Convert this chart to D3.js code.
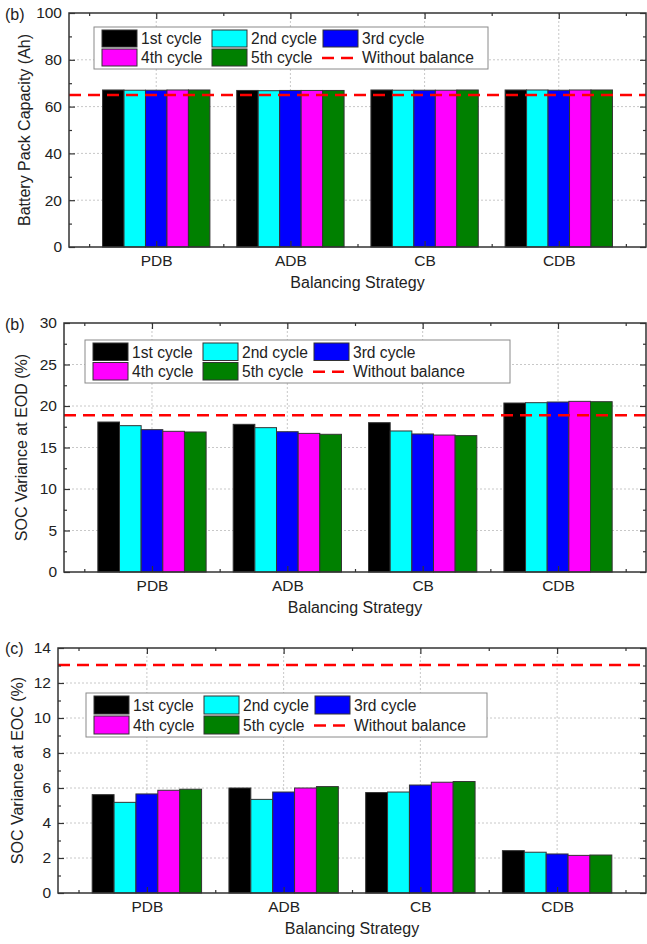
<!DOCTYPE html>
<html>
<head>
<meta charset="utf-8">
<script src="https://cdn.jsdelivr.net/npm/d3@7"></script>
<style>
  html, body { margin: 0; padding: 0; background: #fff; }
  svg { display: block; font-family: Arial, "Liberation Sans", sans-serif; }
</style>
</head>
<body>
<svg id="chart" width="647" height="944"></svg>
<script>
// ---------------- DATA ----------------
const categories = ["PDB", "ADB", "CB", "CDB"];
const seriesNames = ["1st cycle", "2nd cycle", "3rd cycle", "4th cycle", "5th cycle"];
const seriesColors = ["#000000", "#00ffff", "#0000ff", "#ff00ff", "#008000"];
const baselineName = "Without balance";

// values per category: [1st, 2nd, 3rd, 4th, 5th cycle]
const capacityPDB = [67.1, 67.0, 67.0, 67.1, 67.1];
const capacityADB = [66.9, 66.8, 66.9, 66.9, 66.9];
const capacityCB  = [67.1, 67.0, 67.0, 67.0, 67.1];
const capacityCDB = [67.1, 67.1, 67.0, 67.1, 67.1];
const capacityWithoutBalance = 65.0;

const eodPDB = [18.07, 17.63, 17.15, 16.95, 16.87];
const eodADB = [17.79, 17.39, 16.90, 16.70, 16.59];
const eodCB  = [17.99, 16.99, 16.63, 16.50, 16.43];
const eodCDB = [20.36, 20.40, 20.48, 20.56, 20.52];
const eodWithoutBalance = 18.88;

const eocPDB = [5.62, 5.18, 5.66, 5.87, 5.93];
const eocADB = [6.00, 5.35, 5.77, 6.00, 6.08];
const eocCB  = [5.74, 5.77, 6.17, 6.33, 6.37];
const eocCDB = [2.42, 2.33, 2.23, 2.15, 2.17];
const eocWithoutBalance = 13.03;

const capacityTicks = [0, 20, 40, 60, 80, 100];
const eodTicks = [0, 5, 10, 15, 20, 25, 30];
const eocTicks = [0, 2, 4, 6, 8, 10, 12, 14];

const xTitle = "Balancing Strategy";
const capacityTitle = "Battery Pack Capacity (Ah)";
const eodTitle = "SOC Variance at EOD (%)";
const eocTitle = "SOC Variance at EOC (%)";

// ---------------- LAYOUT ----------------
const panels = [
  { tag: "(b)", title: capacityTitle, data: [capacityPDB, capacityADB, capacityCB, capacityCDB],
    base: capacityWithoutBalance, ticks: capacityTicks,
    box: { l: 69, r: 646, t: 13, b: 247 }, titleX: 24, tagY: 14,
    legend: { x: 94, y: 27, w: 394, h: 42 } },
  { tag: "(b)", title: eodTitle, data: [eodPDB, eodADB, eodCB, eodCDB],
    base: eodWithoutBalance, ticks: eodTicks,
    box: { l: 64, r: 646, t: 323, b: 572 }, titleX: 21, tagY: 324,
    legend: { x: 85, y: 340, w: 425, h: 43 } },
  { tag: "(c)", title: eocTitle, data: [eocPDB, eocADB, eocCB, eocCDB],
    base: eocWithoutBalance, ticks: eocTicks,
    box: { l: 58, r: 646, t: 648, b: 893 }, titleX: 17, tagY: 648,
    legend: { x: 86, y: 693, w: 401, h: 44 } }
];

const svg = d3.select("#chart");
const FS = 16;
const LFS = 15.6;
const TFS = 15.5;
const barW = 0.16;

panels.forEach(p => {
  const g = svg.append("g");
  const x = d3.scaleLinear().domain([0.35, 4.65]).range([p.box.l, p.box.r]);
  const yMax = p.ticks[p.ticks.length - 1];
  const y = d3.scaleLinear().domain([0, yMax]).range([p.box.b, p.box.t]);
  const step = p.ticks[1] - p.ticks[0];
  const minorTicks = p.ticks.slice(0, -1).map(t => t + step / 2);

  // grid
  g.append("g").selectAll("line").data(p.ticks.slice(1, -1)).join("line")
    .attr("x1", p.box.l).attr("x2", p.box.r)
    .attr("y1", d => y(d)).attr("y2", d => y(d))
    .attr("stroke", "#c8c8c8").attr("stroke-width", 1).attr("stroke-dasharray", "2,2");
  g.append("g").selectAll("line").data([1, 2, 3, 4]).join("line")
    .attr("x1", d => x(d)).attr("x2", d => x(d))
    .attr("y1", p.box.t).attr("y2", p.box.b)
    .attr("stroke", "#c8c8c8").attr("stroke-width", 1).attr("stroke-dasharray", "2,2");

  // bars
  const groups = g.append("g").selectAll("g").data(p.data).join("g");
  groups.selectAll("rect").data((vals, ci) => vals.map((v, si) => ({ v, si, ci }))).join("rect")
    .attr("x", d => x(d.ci + 1 + (d.si - 2.5) * barW))
    .attr("width", x(barW) - x(0))
    .attr("y", d => y(d.v))
    .attr("height", d => y(0) - y(d.v))
    .attr("fill", d => seriesColors[d.si])
    .attr("stroke", "#333").attr("stroke-width", 1);

  // without-balance line
  g.append("line")
    .attr("x1", p.box.l).attr("x2", p.box.r)
    .attr("y1", y(p.base)).attr("y2", y(p.base))
    .attr("stroke", "#ff0000").attr("stroke-width", 2.5).attr("stroke-dasharray", "12,7");

  // axes
  const styleAxis = sel => {
    sel.select(".domain").remove();
    sel.selectAll(".tick line").attr("stroke", "#333").attr("stroke-width", 1.2);
    sel.selectAll("text").attr("font-size", TFS).attr("fill", "#222")
      .attr("font-family", "Arial, 'Liberation Sans', sans-serif");
  };
  g.append("g").attr("transform", `translate(${p.box.l},0)`)
    .call(d3.axisLeft(y).tickValues(p.ticks).tickSize(-6).tickPadding(7)).call(styleAxis);
  g.append("g").attr("transform", `translate(${p.box.l},0)`)
    .call(d3.axisLeft(y).tickValues(minorTicks).tickSize(-3).tickFormat("")).call(styleAxis);
  g.append("g").attr("transform", `translate(${p.box.r},0)`)
    .call(d3.axisRight(y).tickValues(p.ticks).tickSize(-6).tickFormat("")).call(styleAxis);
  g.append("g").attr("transform", `translate(${p.box.r},0)`)
    .call(d3.axisRight(y).tickValues(minorTicks).tickSize(-3).tickFormat("")).call(styleAxis);
  g.append("g").attr("transform", `translate(0,${p.box.b})`)
    .call(d3.axisBottom(x).tickValues([1, 2, 3, 4]).tickFormat(d => categories[d - 1]).tickSize(-6).tickPadding(8))
    .call(styleAxis);
  g.append("g").attr("transform", `translate(0,${p.box.b})`)
    .call(d3.axisBottom(x).tickValues([0.5, 1.5, 2.5, 3.5, 4.5]).tickSize(-3).tickFormat("")).call(styleAxis);
  g.append("g").attr("transform", `translate(0,${p.box.t})`)
    .call(d3.axisTop(x).tickValues([1, 2, 3, 4]).tickSize(-6).tickFormat("")).call(styleAxis);
  g.append("g").attr("transform", `translate(0,${p.box.t})`)
    .call(d3.axisTop(x).tickValues([0.5, 1.5, 2.5, 3.5, 4.5]).tickSize(-3).tickFormat("")).call(styleAxis);

  // frame
  g.append("rect")
    .attr("x", p.box.l).attr("y", p.box.t)
    .attr("width", p.box.r - p.box.l).attr("height", p.box.b - p.box.t)
    .attr("fill", "none").attr("stroke", "#333").attr("stroke-width", 1.5);

  // titles
  g.append("text")
    .attr("x", (p.box.l + p.box.r) / 2).attr("y", p.box.b + 41)
    .attr("text-anchor", "middle").attr("font-size", FS).attr("fill", "#222")
    .text(xTitle);
  g.append("text")
    .attr("transform", `translate(${p.titleX},${(p.box.t + p.box.b) / 2}) rotate(-90)`)
    .attr("dy", "0.35em")
    .attr("text-anchor", "middle").attr("font-size", FS).attr("fill", "#222")
    .text(p.title);
  g.append("text")
    .attr("x", 5).attr("y", p.tagY).attr("dy", "0.35em")
    .attr("font-size", FS).attr("fill", "#222")
    .text(p.tag);

  // legend
  const L = p.legend;
  const lg = g.append("g").attr("transform", `translate(${L.x},${L.y})`);
  lg.append("rect").attr("width", L.w).attr("height", L.h)
    .attr("fill", "#fff").attr("stroke", "#8a8a8a").attr("stroke-width", 1);
  const colX = [8, 118, 229];
  const rowH = (L.h - 6) / 2;
  const items = seriesNames.map((n, i) => ({ name: n, color: seriesColors[i], type: "bar" }))
    .concat([{ name: baselineName, color: "#ff0000", type: "line" }]);
  items.forEach((it, i) => {
    const r = Math.floor(i / 3), c = i % 3;
    const sy = 3 + r * (rowH + 1);
    const cx = colX[c];
    if (it.type === "bar") {
      lg.append("rect").attr("x", cx).attr("y", sy).attr("width", 35).attr("height", rowH - 1)
        .attr("fill", it.color).attr("stroke", "#333").attr("stroke-width", 1);
    } else {
      lg.append("line").attr("x1", cx - 5).attr("x2", cx + 35)
        .attr("y1", sy + rowH / 2).attr("y2", sy + rowH / 2)
        .attr("stroke", it.color).attr("stroke-width", 2.5).attr("stroke-dasharray", "12,7")
        .attr("stroke-dashoffset", -4);
    }
    lg.append("text").attr("x", cx + 39).attr("y", sy + rowH / 2).attr("dy", "0.35em")
      .attr("font-size", LFS).attr("fill", "#222").text(it.name);
  });
});
</script>
</body>
</html>
